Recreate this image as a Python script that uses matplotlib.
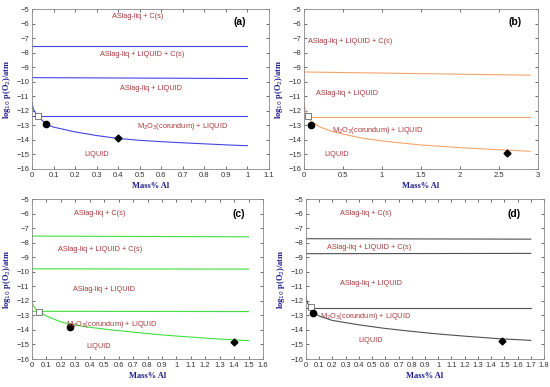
import matplotlib
matplotlib.use("Agg")
import matplotlib.pyplot as plt
import numpy as np

plt.rcParams["font.family"] = ["Liberation Sans", "DejaVu Sans"]

# ---- panel data ----
# (a)
a_x = [0, 0.005, 0.01, 0.02, 0.03, 0.05, 0.067, 0.1, 0.2, 0.3, 0.4, 0.5, 0.6, 0.7, 0.8, 0.9, 1.0]
a_y = [-11.45, -11.8, -12.0, -12.22, -12.38, -12.7, -12.92, -13.12, -13.45, -13.7, -13.9, -14.03, -14.12, -14.2, -14.27, -14.34, -14.4]
a_lines = [(-7.52, -7.52), (-9.72, -9.78), (-12.38, -12.38)]
a_xmax_line = 1.0
a_sq = (0.03, -12.38)
a_circ = (0.067, -12.92)
a_diam = (0.4, -13.9)

# (b)
b_x = [0, 0.01, 0.02, 0.05, 0.1, 0.2, 0.35, 0.5, 0.75, 1.0, 1.5, 2.0, 2.5, 2.9]
b_y = [-11.45, -11.8, -12.05, -12.43, -12.75, -13.1, -13.4, -13.6, -13.88, -14.07, -14.35, -14.53, -14.68, -14.78]
b_lines = [(-9.33, -9.55), (-12.43, -12.43)]
b_xmax_line = 2.9
b_sq = (0.05, -12.35)
b_circ = (0.085, -12.98)
b_diam = (2.6, -14.92)

# (c)
c_x = [0, 0.01, 0.03, 0.05, 0.1, 0.2, 0.26, 0.4, 0.55, 0.7, 0.85, 1.0, 1.25, 1.5]
c_y = [-12.12, -12.35, -12.6, -12.75, -13.05, -13.45, -13.6, -13.82, -14.0, -14.15, -14.3, -14.42, -14.6, -14.74]
c_lines = [(-7.55, -7.6), (-9.8, -9.82), (-12.72, -12.74)]
c_xmax_line = 1.5
c_sq = (0.05, -12.74)
c_circ = (0.26, -13.82)
c_diam = (1.4, -14.85)

# (d)
d_x = [0, 0.005, 0.01, 0.02, 0.035, 0.06, 0.1, 0.2, 0.4, 0.6, 0.8, 1.0, 1.2, 1.45, 1.7]
d_y = [-11.65, -11.95, -12.1, -12.3, -12.5, -12.8, -13.05, -13.35, -13.65, -13.9, -14.1, -14.28, -14.43, -14.6, -14.72]
d_lines = [(-7.73, -7.76), (-8.76, -8.74), (-12.5, -12.5)]
d_xmax_line = 1.7
d_sq = (0.035, -12.45)
d_circ = (0.05, -12.82)
d_diam = (1.48, -14.78)

labels_a = [("ASlag-liq + C(s)", 0.49, -5.5), ("ASlag-liq + LIQUID + C(s)", 0.51, -8.1),
            ("ASlag-liq + LIQUID", 0.55, -10.45), ("M$_2$O$_3$(corundum) + LIQUID", 0.7, -13.05),
            ("LIQUID", 0.3, -15.0)]
labels_b = [("ASlag-liq + LIQUID + C(s)", 0.59, -7.25), ("ASlag-liq + LIQUID", 0.55, -10.8),
            ("M$_2$O$_3$(corundum) + LIQUID", 0.95, -13.35), ("LIQUID", 0.42, -14.97)]
labels_c = [("ASlag-liq + C(s)", 0.47, -6.0), ("ASlag-liq + LIQUID + C(s)", 0.47, -8.45),
            ("ASlag-liq + LIQUID", 0.5, -11.2), ("M$_2$O$_3$(corundum) + LIQUID", 0.55, -13.6),
            ("LIQUID", 0.46, -15.12)]
labels_d = [("ASlag-liq + C(s)", 0.45, -6.0), ("ASlag-liq + LIQUID + C(s)", 0.48, -8.33),
            ("ASlag-liq + LIQUID", 0.49, -10.78), ("M$_2$O$_3$(corundum) + LIQUID", 0.45, -13.08),
            ("LIQUID", 0.49, -14.72)]

panels = [
    dict(tag="(a)", x=a_x, y=a_y, lines=a_lines, xl=a_xmax_line, sq=a_sq, ci=a_circ, di=a_diam,
         labels=labels_a, color="#4444e6", xlim=1.1, xticks=np.arange(0, 1.11, 0.1), tagx=0.965, tagy=-5.88,
         rect=[32/550, 1-169/387, 237/550, 160/387]),
    dict(tag="(b)", x=b_x, y=b_y, lines=b_lines, xl=b_xmax_line, sq=b_sq, ci=b_circ, di=b_diam,
         labels=labels_b, color="#f5a469", xlim=3.0, xticks=np.arange(0, 3.01, 0.5), tagx=2.7, tagy=-5.88,
         rect=[304/550, 1-169/387, 234/550, 160/387]),
    dict(tag="(c)", x=c_x, y=c_y, lines=c_lines, xl=c_xmax_line, sq=c_sq, ci=c_circ, di=c_diam,
         labels=labels_c, color="#3fe03f", xlim=1.6, xticks=np.arange(0, 1.61, 0.1), tagx=1.43, tagy=-6.0,
         rect=[32/550, 1-359/387, 231/550, 160/387]),
    dict(tag="(d)", x=d_x, y=d_y, lines=d_lines, xl=d_xmax_line, sq=d_sq, ci=d_circ, di=d_diam,
         labels=labels_d, color="#505050", xlim=1.8, xticks=np.arange(0, 1.81, 0.1), tagx=1.57, tagy=-6.0,
         rect=[306/550, 1-359/387, 238/550, 160/387]),
]

text_red = "#a83a3a"
axis_blue = "#1c1c8a"

fig = plt.figure(figsize=(5.5, 3.87), dpi=100)

for p in panels:
    ax = fig.add_axes(p["rect"])
    ax.plot(p["x"], p["y"], color=p["color"], lw=0.8)
    for y0, y1 in p["lines"]:
        ax.plot([0, p["xl"]], [y0, y1], color=p["color"], lw=0.8)
    ax.plot(*p["sq"], marker="s", ms=4, mfc="white", mec="#666666", mew=0.6, ls="none")
    ax.plot(*p["ci"], marker="o", ms=4.5, color="black", ls="none")
    ax.plot(*p["di"], marker="D", ms=3.5, color="black", ls="none")
    for txt, tx, ty in p["labels"]:
        ax.text(tx, ty, txt, color=text_red, fontsize=5.3, ha="center", va="center")
    ax.text(p["tagx"], p["tagy"], p["tag"], fontsize=7.5, fontweight="bold", ha="center", va="center")

    ax.set_xlim(0, p["xlim"])
    ax.set_ylim(-16, -5)
    ax.set_xticks(p["xticks"])
    ax.set_xticklabels([f"{v:g}" for v in np.round(p["xticks"], 2)])
    ax.set_yticks(np.arange(-16, -4, 1))
    ax.tick_params(direction="in", length=2, width=0.5, labelsize=5.5, pad=2,
                   top=True, right=True, colors="#333333")
    for s in ax.spines.values():
        s.set_color("#888888")
        s.set_linewidth(0.6)
    ax.set_xlabel("Mass% Al", family="Liberation Serif", fontweight="bold",
                  fontsize=6, color=axis_blue, labelpad=2)
    ax.set_ylabel("log$_{10}$ p(O$_2$)/atm", family="Liberation Serif", fontweight="bold",
                  fontsize=6, color=axis_blue, labelpad=2)

fig.savefig("out.png", dpi=100)
